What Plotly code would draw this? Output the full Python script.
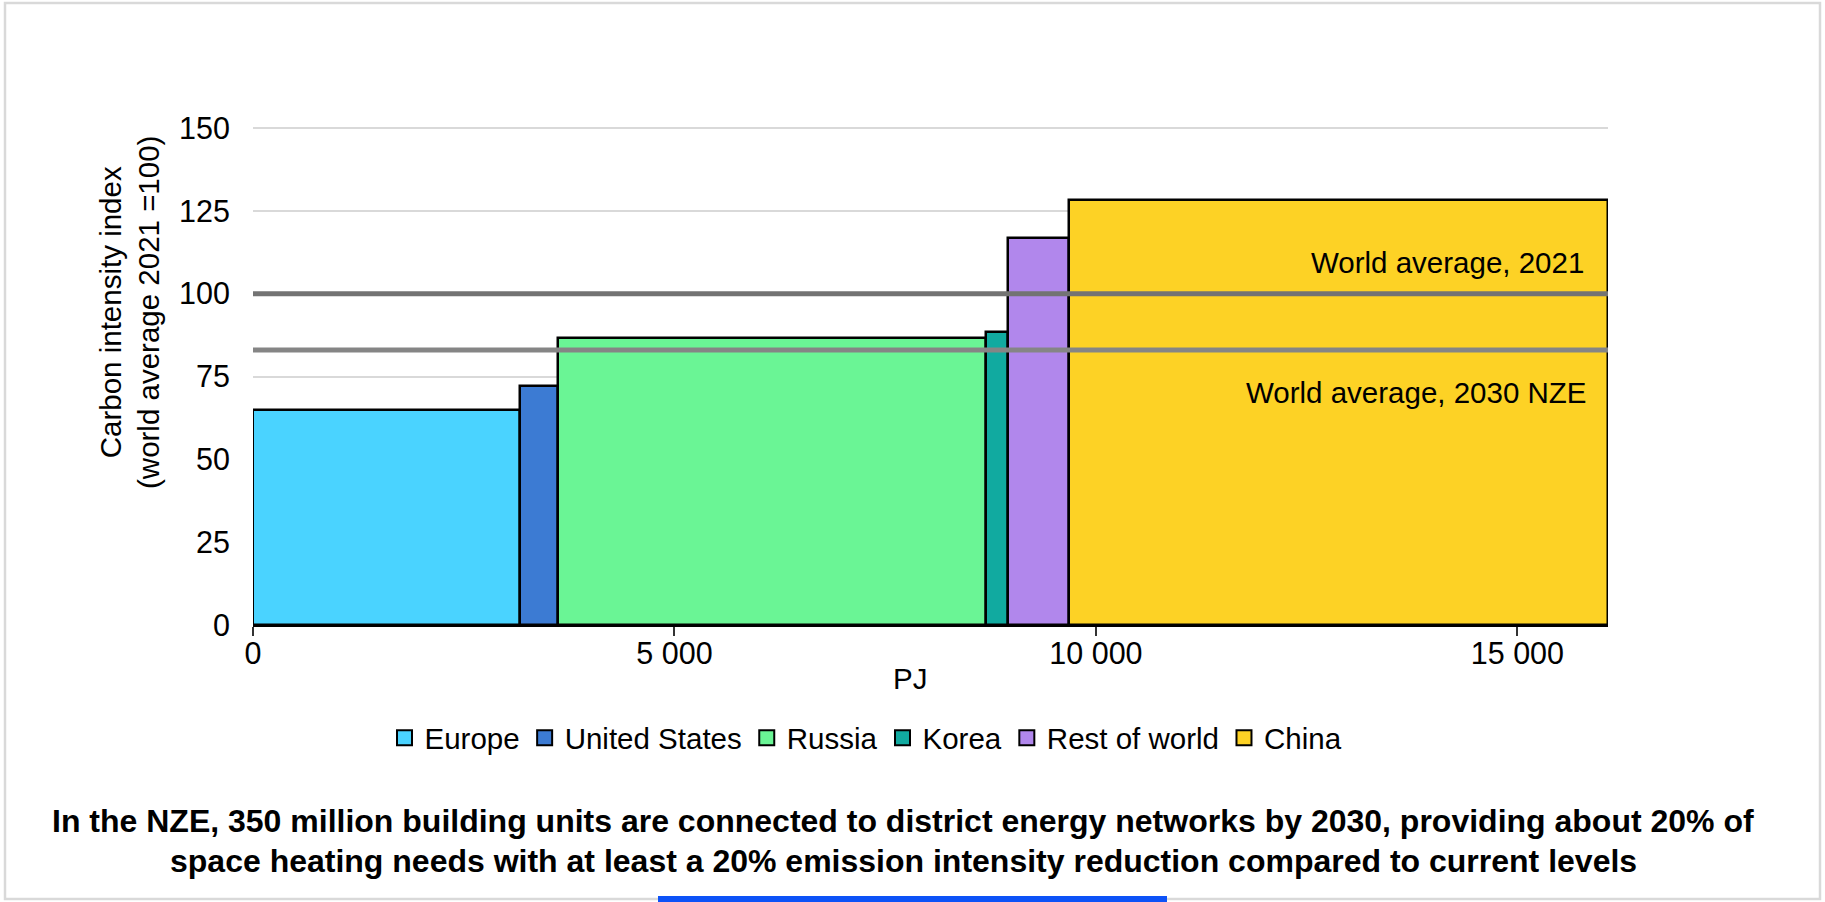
import plotly.graph_objects as go

# ---- data ----
regions = ["Europe", "United States", "Russia", "Korea", "Rest of world", "China"]
widths_pj = [3165, 455, 5080, 258, 727, 6390]
intensity = [65.0, 72.2, 86.5, 88.3, 116.7, 128.3]
colors = ["#4AD3FF", "#3C7BD3", "#6AF595", "#11AAA0", "#B187EC", "#FDD225"]
avg_2021 = 100
avg_2030_nze = 83
y_ticks = [0, 25, 50, 75, 100, 125, 150]
x_ticks = [0, 5000, 10000, 15000]
x_tick_labels = ["0", "5 000", "10 000", "15 000"]

# ---- layout geometry (pixels) ----
W, H = 1825, 902
L, R, T, B = 253, 1608, 125, 625
FONT = "Liberation Sans, Arial, sans-serif"
FS = 29.5
FS_TICK = 30.5
FS_TITLE = 32


def px(xp):
    return (xp - L) / (R - L)


def py(yp):
    return (B - yp) / (B - T)


lefts = []
acc = 0
for w in widths_pj:
    lefts.append(acc)
    acc += w
total = acc

fig = go.Figure()
for name, x0, w, v, c in zip(regions, lefts, widths_pj, intensity, colors):
    fig.add_trace(go.Bar(
        x=[x0], y=[v], width=[w], offset=0, name=name,
        marker=dict(color=c, line=dict(color="black", width=2.5)),
        showlegend=False,
    ))
for name, c in zip(regions, colors):
    fig.add_trace(go.Scatter(
        x=[None], y=[None], mode="markers", name=name,
        marker=dict(symbol="square", size=15, color=c,
                    line=dict(color="black", width=2)),
    ))

shapes = [
    dict(type="line", xref="x", yref="y", x0=0, x1=total, y0=avg_2021, y1=avg_2021,
         line=dict(color="#737373", width=5)),
    dict(type="line", xref="x", yref="y", x0=0, x1=total, y0=avg_2030_nze, y1=avg_2030_nze,
         line=dict(color="#858585", width=5)),
    dict(type="rect", xref="paper", yref="paper", x0=px(5), x1=px(1820), y0=py(899), y1=py(3),
         line=dict(color="#d9d9d9", width=2.5), fillcolor="rgba(0,0,0,0)", layer="below"),
    dict(type="rect", xref="paper", yref="paper", x0=px(658), x1=px(1167), y0=py(908), y1=py(896),
         line=dict(width=0), fillcolor="#0d52f7"),
]

annotations = [
    dict(text="World average, 2021", xref="x", yref="y", x=15810, y=109.3,
         xanchor="right", yanchor="middle", showarrow=False,
         font=dict(family=FONT, size=FS, color="black")),
    dict(text="World average, 2030 NZE", xref="x", yref="y", x=15850, y=70.3,
         xanchor="right", yanchor="middle", showarrow=False,
         font=dict(family=FONT, size=FS, color="black")),
    dict(text="Carbon intensity index<br>(world average 2021 =100)", xref="paper", yref="paper",
         x=px(129), y=py(313), xanchor="center", yanchor="middle", textangle=-90,
         showarrow=False, font=dict(family=FONT, size=FS, color="black")),
    dict(text="PJ", xref="paper", yref="paper", x=px(910), y=py(678),
         xanchor="center", yanchor="middle", showarrow=False,
         font=dict(family=FONT, size=FS, color="black")),
    dict(text="<b>In the NZE, 350 million building units are connected to district energy networks by 2030, providing about 20% of</b>",
         xref="paper", yref="paper", x=px(903), y=py(821), xanchor="center", yanchor="middle",
         showarrow=False, font=dict(family=FONT, size=FS_TITLE, color="black")),
    dict(text="<b>space heating needs with at least a 20% emission intensity reduction compared to current levels</b>",
         xref="paper", yref="paper", x=px(903), y=py(861), xanchor="center", yanchor="middle",
         showarrow=False, font=dict(family=FONT, size=FS_TITLE, color="black")),
]

fig.update_layout(
    width=W, height=H,
    margin=dict(l=L, r=W - R, t=T, b=H - B, pad=0),
    paper_bgcolor="white", plot_bgcolor="white",
    barmode="overlay", bargap=0,
    font=dict(family=FONT, size=FS, color="black"),
    shapes=shapes, annotations=annotations,
    legend=dict(orientation="h", x=px(866), xanchor="center", y=py(738), yanchor="middle",
                font=dict(family=FONT, size=FS, color="black"), bgcolor="rgba(0,0,0,0)",
                itemsizing="trace"),
    xaxis=dict(range=[0, total], tickvals=x_ticks, ticktext=x_tick_labels,
               ticks="outside", ticklen=9, tickwidth=2, tickcolor="#333333",
               showline=True, linecolor="black", linewidth=2, showgrid=False,
               zeroline=False, ticklabelstandoff=-9,
               tickfont=dict(family=FONT, size=FS_TICK, color="black")),
    yaxis=dict(range=[0, (B - T) / ((B - 128) / 150)], tickvals=y_ticks,
               showgrid=True, gridcolor="#d9d9d9", gridwidth=2, zeroline=False,
               showline=False, ticks="", ticklabelstandoff=22,
               tickfont=dict(family=FONT, size=FS_TICK, color="black")),
)

fig.write_html("out.html")
